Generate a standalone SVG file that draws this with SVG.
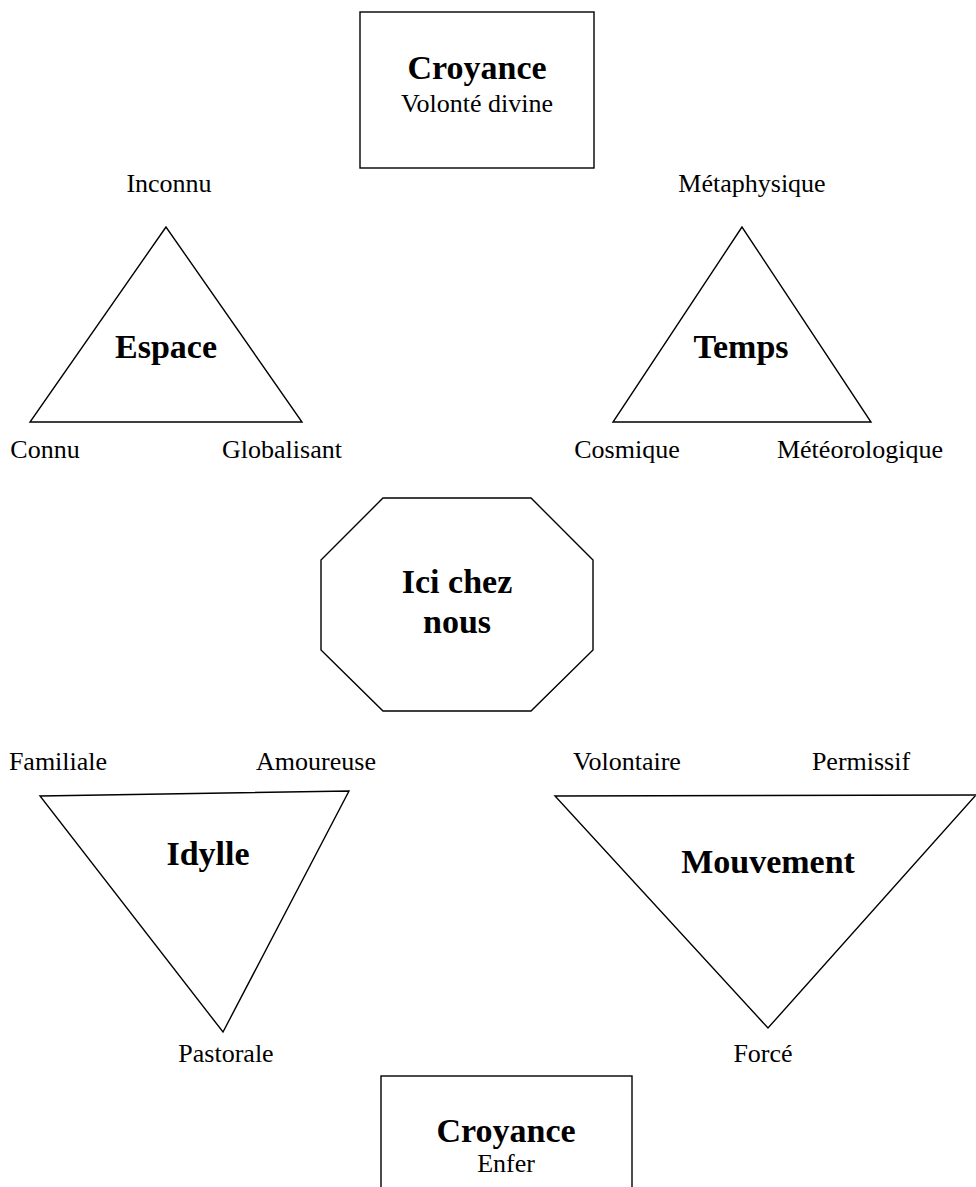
<svg xmlns="http://www.w3.org/2000/svg" width="976" height="1187" viewBox="0 0 976 1187">
<style>
.shape{fill:#fff;stroke:#000;stroke-width:1.4;stroke-linejoin:miter}
.t{font-family:"Liberation Serif","Times New Roman",serif;font-size:26px;fill:#000;text-anchor:middle}
.b{font-family:"Liberation Serif","Times New Roman",serif;font-size:34px;font-weight:bold;fill:#000;text-anchor:middle}
</style>
<rect width="976" height="1187" fill="#fff"/>
<g id="connectors"></g>
<g id="croyance-top">
<rect class="shape" x="360" y="12" width="234" height="156"/>
<text class="b" x="477" y="79">Croyance</text>
<text class="t" x="477" y="112">Volonté divine</text>
</g>
<g id="espace">
<polygon class="shape" points="166,227 30,422 302,422"/>
<text class="b" x="166" y="358">Espace</text>
<text class="t" x="169" y="192">Inconnu</text>
<text class="t" x="45" y="458">Connu</text>
<text class="t" x="282" y="458">Globalisant</text>
</g>
<g id="temps">
<polygon class="shape" points="742,227 613,422 871,422"/>
<text class="b" x="741" y="358">Temps</text>
<text class="t" x="752" y="192">Métaphysique</text>
<text class="t" x="627" y="458">Cosmique</text>
<text class="t" x="860" y="458">Météorologique</text>
</g>
<g id="ici-chez-nous">
<polygon class="shape" points="383,498 531,498 593,560 593,650 531,711 383,711 321,650 321,560"/>
<text class="b" x="457" y="593">Ici chez</text>
<text class="b" x="457" y="633">nous</text>
</g>
<g id="idylle">
<polygon class="shape" points="40,796 349,791 223,1032"/>
<text class="b" x="208" y="865">Idylle</text>
<text class="t" x="58" y="770">Familiale</text>
<text class="t" x="316" y="770">Amoureuse</text>
<text class="t" x="226" y="1062">Pastorale</text>
</g>
<g id="mouvement">
<polygon class="shape" points="555,796 976,795 768,1028"/>
<text class="b" x="768" y="873">Mouvement</text>
<text class="t" x="627" y="770">Volontaire</text>
<text class="t" x="861" y="770">Permissif</text>
<text class="t" x="763" y="1062">Forcé</text>
</g>
<g id="croyance-bottom">
<rect class="shape" x="381" y="1076" width="251" height="130"/>
<text class="b" x="506" y="1142">Croyance</text>
<text class="t" x="506" y="1172">Enfer</text>
</g>
</svg>
